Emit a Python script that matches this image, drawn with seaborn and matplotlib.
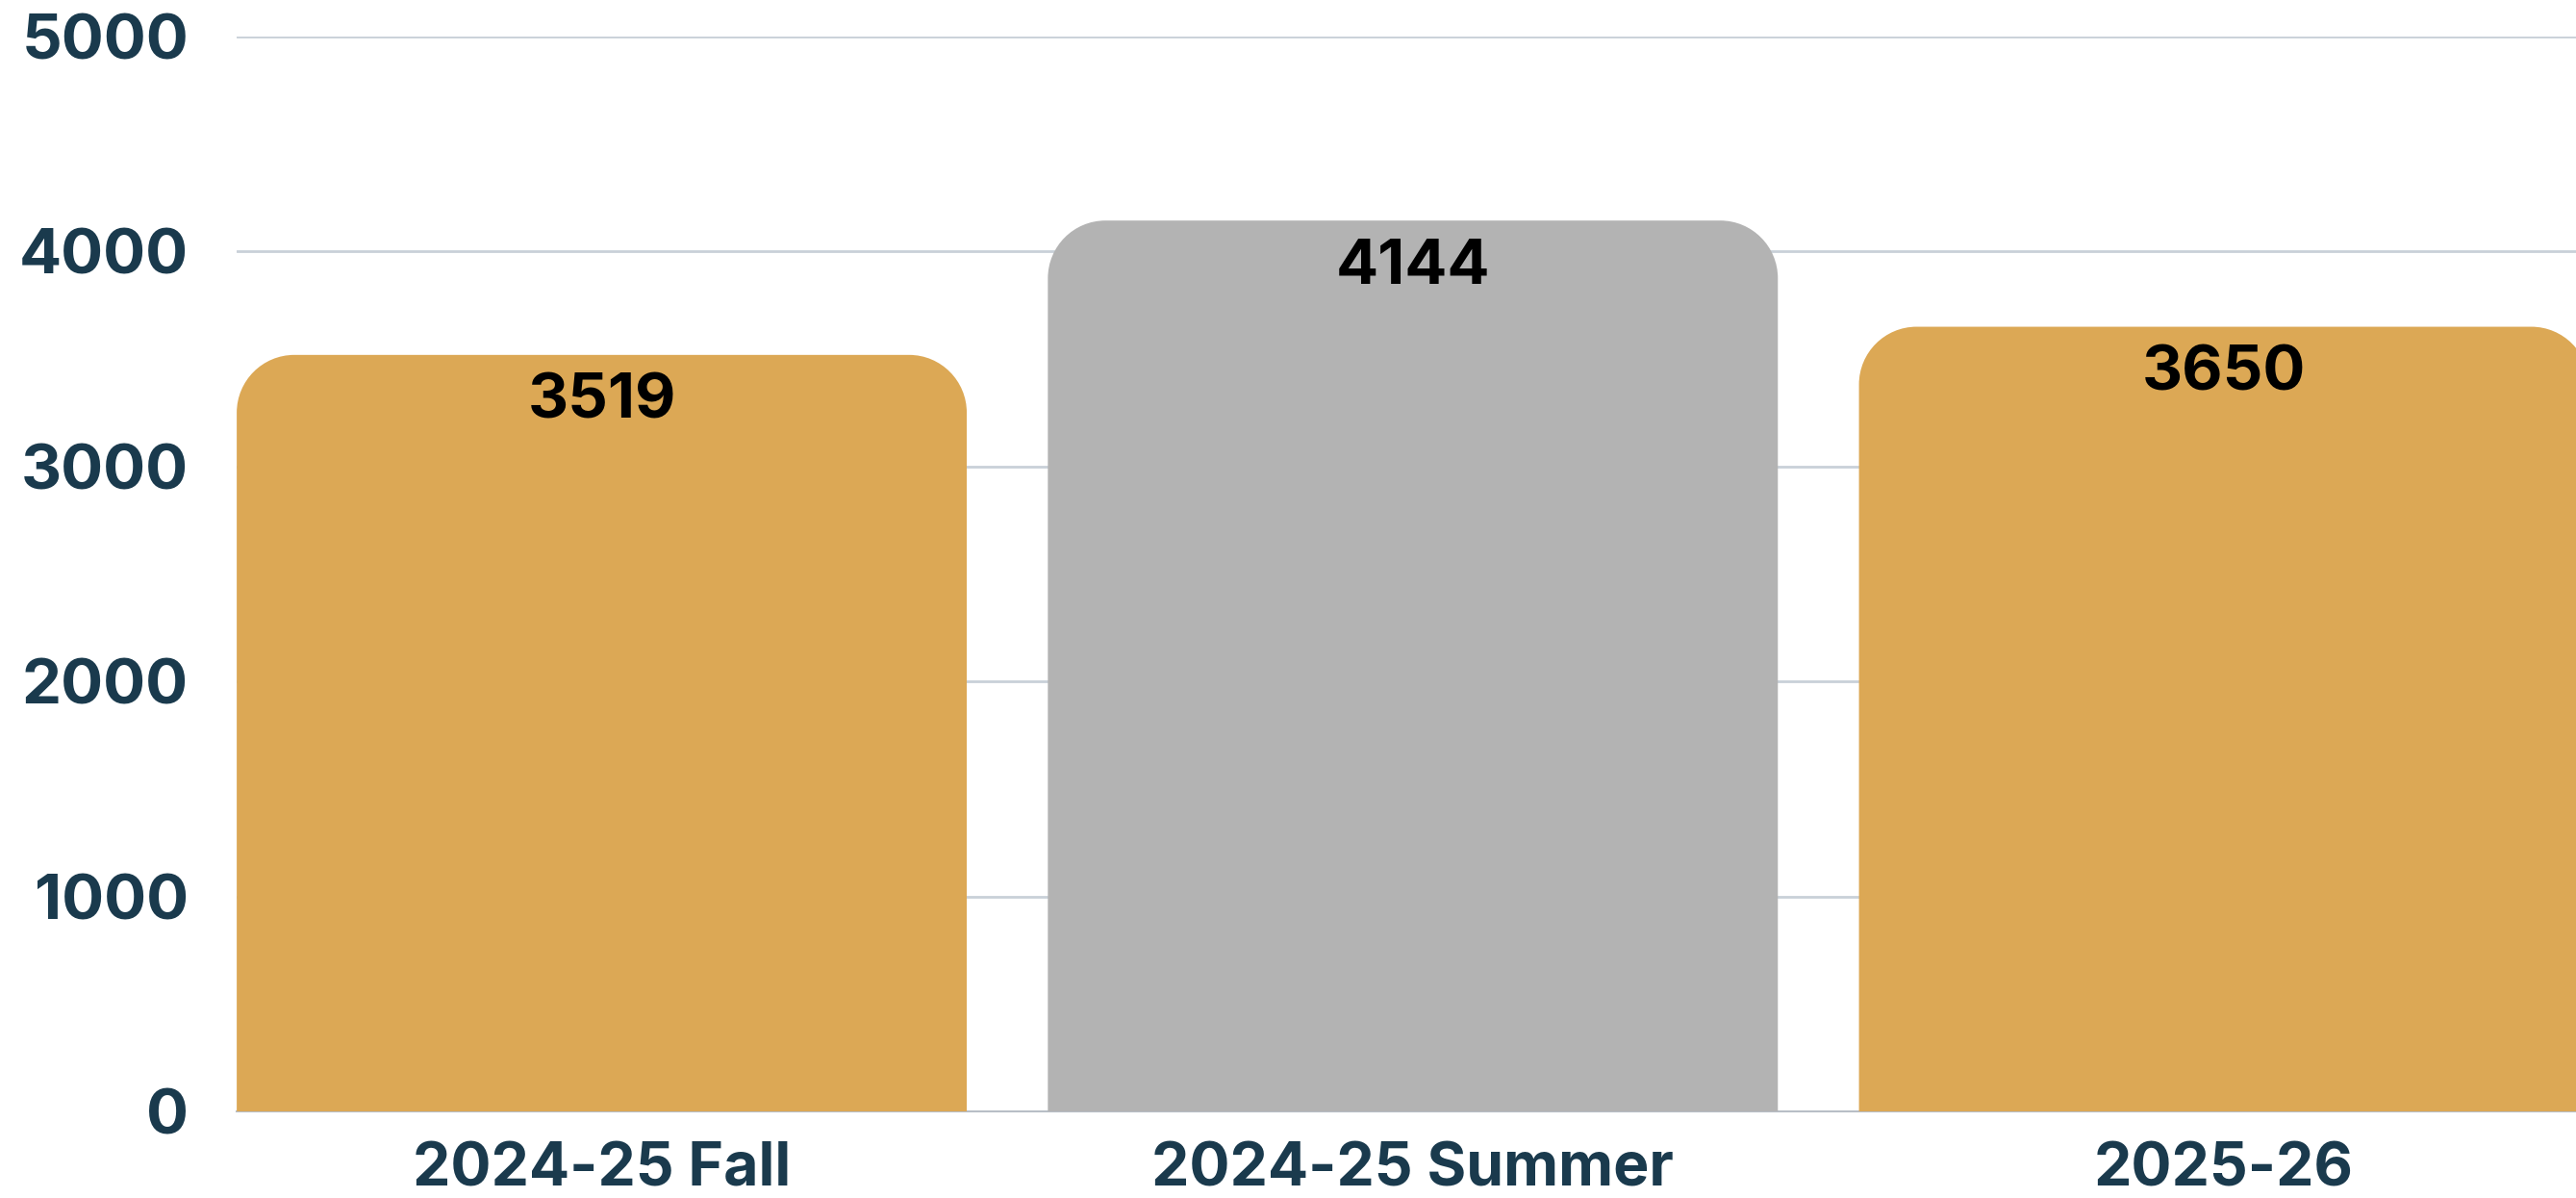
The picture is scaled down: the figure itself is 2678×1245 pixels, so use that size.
import matplotlib
matplotlib.use("Agg")
import matplotlib.pyplot as plt
import seaborn as sns
from matplotlib.path import Path
from matplotlib.patches import PathPatch

categories = ["2024-25 Fall", "2024-25 Summer", "2025-26"]
values = [3519, 4144, 3650]
bar_colors = ["#DCA855", "#B3B3B3", "#DCA855"]
y_ticks = [0, 1000, 2000, 3000, 4000, 5000]

navy = "#1A3A4D"
grid_col = "#C9D0D8"

sns.set_style("white")
plt.rcParams["font.family"] = ["Inter", "DejaVu Sans"]

fig = plt.figure(figsize=(26.78, 12.45), dpi=100)
ax = fig.add_axes([0.0919, 0.0723, 0.9081, 0.8972])

sns.barplot(x=categories, y=values, hue=categories, palette=bar_colors,
            width=0.9, legend=False, saturation=1, ax=ax, zorder=3)

ax.set_xlim(-0.45, 2.434)
ax.set_ylim(0, 5000)


def rounded_top(x0, w, h, rx, ry):
    k = 0.5523
    x1 = x0 + w
    verts = [(x0, 0), (x0, h - ry),
             (x0, h - ry + k * ry), (x0 + rx - k * rx, h), (x0 + rx, h),
             (x1 - rx, h),
             (x1 - rx + k * rx, h), (x1, h - ry + k * ry), (x1, h - ry),
             (x1, 0), (x0, 0)]
    codes = [Path.MOVETO, Path.LINETO,
             Path.CURVE4, Path.CURVE4, Path.CURVE4,
             Path.LINETO,
             Path.CURVE4, Path.CURVE4, Path.CURVE4,
             Path.LINETO, Path.CLOSEPOLY]
    return Path(verts, codes)


# px -> data units for the corner radius (about 60 px)
rx = 60 / 844.0
ry = 60 / 223.4 * 1000

for p in list(ax.patches):
    x0, w, h = p.get_x(), p.get_width(), p.get_height()
    fc = p.get_facecolor()
    p.remove()
    ax.add_patch(PathPatch(rounded_top(x0, w, h, rx, ry), facecolor=fc,
                           edgecolor="none", zorder=3))

for i, v in enumerate(values):
    ax.annotate(str(v), (i, v), xytext=(0, -35), textcoords="offset points",
                ha="center", va="center", fontsize=47, fontweight="bold",
                color="black", zorder=5)

ax.set_yticks(y_ticks)
ax.yaxis.grid(True, color=grid_col, linewidth=2)
ax.set_axisbelow(True)
for s in ["top", "right", "left"]:
    ax.spines[s].set_visible(False)
ax.spines["bottom"].set_color("#B8BEC6")
ax.spines["bottom"].set_linewidth(1.5)

ax.tick_params(axis="y", length=0, pad=36, labelsize=47, labelcolor=navy)
ax.tick_params(axis="x", length=0, pad=23, labelsize=45, labelcolor=navy)
for lab in ax.get_xticklabels() + ax.get_yticklabels():
    lab.set_fontweight("bold")
ax.set_xlabel("")
ax.set_ylabel("")

fig.savefig("out.png", dpi=100)
